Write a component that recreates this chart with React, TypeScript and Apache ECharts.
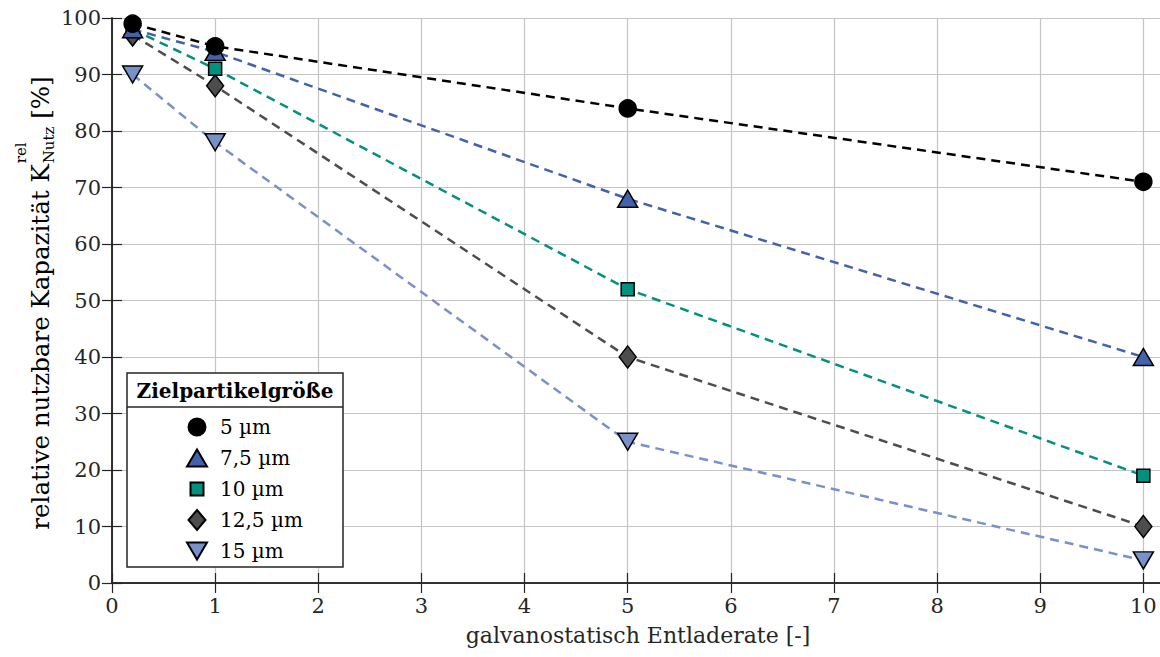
import React, { useEffect, useRef } from 'react';
import * as echarts from 'echarts';

// Discharge rates (C-rate) and relative usable capacity per target particle size
const rates = [0.2, 1, 5, 10];
const sizeNames = ['5 µm', '7,5 µm', '10 µm', '12,5 µm', '15 µm'];
const cap5 = [99, 95, 84, 71];
const cap75 = [98, 94, 68, 40];
const cap10 = [98, 91, 52, 19];
const cap125 = [97, 88, 40, 10];
const cap15 = [90, 78, 25, 4];

const colors = ['#000000', '#4262ab', '#00917f', '#4d4d4d', '#7891c9'];
const FONT = '"DejaVu Serif", serif';
const AXIS = '#262626';

const INV_TRIANGLE = 'path://M0,0L20,0L10,17Z';

// legend icons carry an invisible bounding box (22 x 20) so every marker keeps its own size
const legendIcons = [
  'path://M0,0M22,20M2.5,10a8.5,8.5 0 1,0 17,0a8.5,8.5 0 1,0 -17,0Z',
  'path://M0,0M22,20M1,18.5L11,1.5L21,18.5Z',
  'path://M0,0M22,20M4.5,3.5h13v13h-13Z',
  'path://M0,0M22,20M11,0L19.5,10L11,20L2.5,10Z',
  'path://M0,0M22,20M1,1.5L21,1.5L11,18.5Z',
];

const seriesDefs = [
  { name: sizeNames[0], values: cap5, symbol: 'circle', size: 17 as any },
  { name: sizeNames[1], values: cap75, symbol: 'triangle', size: [20, 17] },
  { name: sizeNames[2], values: cap10, symbol: 'rect', size: 13 },
  { name: sizeNames[3], values: cap125, symbol: 'diamond', size: [17, 22] },
  { name: sizeNames[4], values: cap15, symbol: INV_TRIANGLE, size: [20, 17] },
];

function measure(text: string, size: number, weight = 'normal') {
  const ctx = document.createElement('canvas').getContext('2d');
  if (!ctx) return text.length * size * 0.6;
  ctx.font = `${weight} ${size}px ${FONT}`;
  return ctx.measureText(text).width;
}

export default function App() {
  const ref = useRef<HTMLDivElement>(null);

  useEffect(() => {
    if (!ref.current) return;
    const chart = echarts.init(ref.current, undefined, { renderer: 'svg' });

    // y-axis title with stacked super-/subscript: K^rel_Nutz
    const mainText = 'relative nutzbare Kapazität K';
    const tailText = ' [%]';
    const mainSize = 24.5;
    const scriptSize = 15;
    const w1 = measure(mainText, mainSize);
    const wSup = measure('rel', scriptSize);
    const wSub = measure('Nutz', scriptSize);
    const w2 = measure(tailText, mainSize);
    const scriptW = Math.max(wSup, wSub);
    const total = w1 + 1 + scriptW + w2;

    const txt = (text: string, size: number) => ({
      text,
      fontSize: size,
      fontFamily: FONT,
      fill: '#000',
      align: 'left',
      verticalAlign: 'middle',
    });

    // draw order: smallest particle size on top
    const series = seriesDefs
      .map((d, i) => ({
        name: d.name,
        type: 'line',
        data: rates.map((r, k) => [r, d.values[k]]),
        symbol: d.symbol,
        symbolSize: d.size,
        z: 10 - i,
        lineStyle: { color: colors[i], width: 2.5, type: [9, 6] },
        itemStyle: { color: colors[i], borderColor: '#000', borderWidth: 1.5 },
        emphasis: { disabled: true },
      }))
      .reverse();

    chart.setOption({
      animation: false,
      grid: {
        left: 112,
        top: 18,
        width: 1052,
        height: 565,
        containLabel: false,
        outerBoundsMode: 'none',
      },
      xAxis: [
        {
          type: 'value',
          min: 0,
          max: 10.2,
          interval: 1,
          position: 'bottom',
          name: 'galvanostatisch Entladerate [-]',
          nameLocation: 'middle',
          nameGap: 41,
          nameTextStyle: { fontSize: 22, fontFamily: FONT, color: '#262626' },
          axisLine: { lineStyle: { color: AXIS, width: 1.5 } },
          axisTick: { inside: true, length: 10, lineStyle: { color: AXIS, width: 1.2 } },
          axisLabel: {
            fontSize: 21,
            fontFamily: FONT,
            color: '#262626',
            margin: 12,
            formatter: (v: number) => (Number.isInteger(v) ? String(v) : ''),
          },
          splitLine: { show: true, lineStyle: { color: '#c4c4c4', width: 1.2 } },
        },
        {
          type: 'value',
          min: 0,
          max: 10.2,
          interval: 1,
          position: 'top',
          axisLine: { lineStyle: { color: AXIS, width: 1.5 } },
          axisTick: { inside: true, length: 10, lineStyle: { color: AXIS, width: 1.2 } },
          axisLabel: { show: false },
          splitLine: { show: false },
        },
      ],
      yAxis: [
        {
          type: 'value',
          min: 0,
          max: 100,
          interval: 10,
          position: 'left',
          axisLine: { show: true, lineStyle: { color: AXIS, width: 1.5 } },
          axisTick: { show: true, inside: true, length: 10, lineStyle: { color: AXIS, width: 1.2 } },
          axisLabel: { fontSize: 21, fontFamily: FONT, color: '#262626', margin: 11 },
          splitLine: { show: true, lineStyle: { color: '#c4c4c4', width: 1.2 } },
        },
        {
          type: 'value',
          min: 0,
          max: 100,
          interval: 10,
          position: 'right',
          axisLine: { show: true, lineStyle: { color: AXIS, width: 1.5 } },
          axisTick: { show: true, inside: true, length: 10, lineStyle: { color: AXIS, width: 1.2 } },
          axisLabel: { show: false },
          splitLine: { show: false },
        },
      ],
      legend: {
        orient: 'vertical',
        left: 180,
        top: 411,
        itemWidth: 22,
        itemHeight: 20,
        itemGap: 9,
        selectedMode: false,
        z: 20,
        data: sizeNames.map((n, i) => ({ name: n, icon: legendIcons[i] })),
        textStyle: { fontSize: 20, fontFamily: FONT, color: '#000', padding: [0, 0, 0, 7] },
      },
      graphic: [
        {
          type: 'rect',
          z: 15,
          shape: { x: 127, y: 373, width: 216, height: 194 },
          style: { fill: '#fff', stroke: AXIS, lineWidth: 1.5 },
        },
        {
          type: 'line',
          z: 16,
          shape: { x1: 127, y1: 407, x2: 343, y2: 407 },
          style: { stroke: AXIS, lineWidth: 1.5 },
        },
        {
          type: 'text',
          z: 16,
          x: 235,
          y: 391,
          style: {
            text: 'Zielpartikelgröße',
            fontSize: 20,
            fontWeight: 'bold',
            fontFamily: FONT,
            fill: '#000',
            align: 'center',
            verticalAlign: 'middle',
          },
        },
        {
          type: 'group',
          x: 40,
          y: 303 + total / 2,
          rotation: Math.PI / 2,
          children: [
            { type: 'text', x: 0, y: 0, style: txt(mainText, mainSize) },
            { type: 'text', x: w1 + 1, y: -19, style: txt('rel', scriptSize) },
            { type: 'text', x: w1 + 1, y: 9, style: txt('Nutz', scriptSize) },
            { type: 'text', x: w1 + 1 + scriptW, y: 0, style: txt(tailText, mainSize) },
          ],
        },
      ],
      series,
    });

    return () => chart.dispose();
  }, []);

  return (
    <div
      ref={ref}
      style={{ position: 'absolute', left: 0, top: 0, width: 1160, height: 657, background: '#fff' }}
    />
  );
}
